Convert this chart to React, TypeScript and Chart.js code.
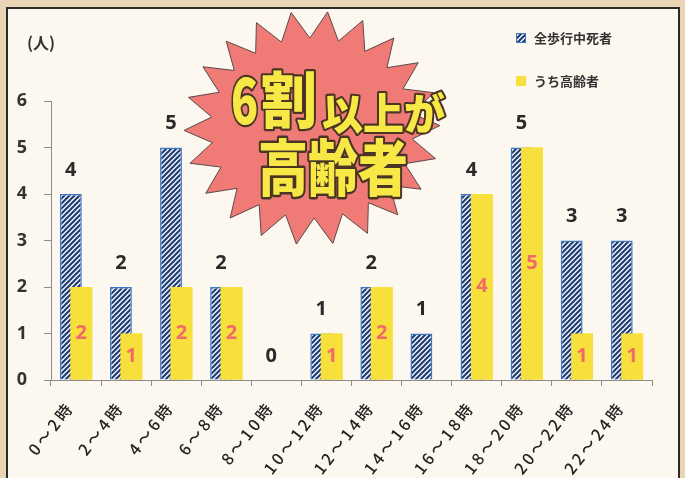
import React, { useEffect, useRef } from 'react';
import { Chart, registerables } from 'chart.js';

Chart.register(...registerables);

const categories = ['0～2時', '2～4時', '4～6時', '6～8時', '8～10時', '10～12時', '12～14時', '14～16時', '16～18時', '18～20時', '20～22時', '22～24時'];
const totalDeaths = [4, 2, 5, 2, 0, 1, 2, 1, 4, 5, 3, 3];
const elderlyDeaths = [2, 1, 2, 2, 0, 1, 2, 0, 4, 5, 1, 1];
const seriesLabels = ['全歩行中死者', 'うち高齢者'];
const yMin = 0;
const yMax = 6;
const unitLabel = '(人)';
const headlineNum = '6';
const headlineA = '割';
const headlineB = '以上が';
const headlineC = '高齢者';

const JP = '"Noto Sans CJK JP", "Noto Sans", sans-serif';
const BLUE_DARK = '#1f3a70';
const BLUE_EDGE = '#3d78c4';
const YELLOW = '#f8e03c';
const LABEL_RED = '#f06a68';
const SPACING = 3;

function makeHatch(): CanvasPattern | string {
  const c = document.createElement('canvas');
  c.width = 5;
  c.height = 5;
  const g = c.getContext('2d');
  if (!g) return BLUE_DARK;
  g.fillStyle = '#eef4fb';
  g.fillRect(0, 0, 5, 5);
  g.strokeStyle = BLUE_DARK;
  g.lineWidth = 2;
  g.beginPath();
  g.moveTo(-1, 6); g.lineTo(6, -1);
  g.moveTo(-1, 1); g.lineTo(1, -1);
  g.moveTo(4, 6); g.lineTo(6, 4);
  g.stroke();
  const p = g.createPattern(c, 'repeat');
  return p || BLUE_DARK;
}

function outlinedText(ctx: CanvasRenderingContext2D, text: string, x: number, y: number, size: number, sx: number, sy: number) {
  ctx.save();
  ctx.translate(x, y);
  ctx.scale(sx, sy);
  ctx.font = `900 ${size}px ${JP}`;
  ctx.textBaseline = 'middle';
  ctx.textAlign = 'left';
  ctx.lineJoin = 'round';
  ctx.lineWidth = 4;
  ctx.strokeStyle = '#4a3424';
  ctx.strokeText(text, 0, 0);
  ctx.fillStyle = '#f8e846';
  ctx.fillText(text, 0, 0);
  ctx.restore();
}

const decorPlugin = {
  id: 'decor',
  beforeDraw(chart: any) {
    const ctx = chart.ctx as CanvasRenderingContext2D;
    const W = chart.width, H = chart.height;
    ctx.save();
    ctx.fillStyle = '#e9d4b6';
    ctx.fillRect(0, 0, W, H);
    ctx.fillStyle = '#fcf8ef';
    ctx.fillRect(7, 8, 672, H);
    ctx.strokeStyle = '#2b2b2b';
    ctx.lineWidth = 2;
    ctx.strokeRect(7, 8, 672, H + 10);
    ctx.fillStyle = '#333';
    ctx.font = `bold 16px ${JP}`;
    ctx.textBaseline = 'middle';
    ctx.textAlign = 'left';
    ctx.fillText(unitLabel, 27, 43);
    ctx.restore();
    (ctx as any).letterSpacing = `${SPACING}px`;
  },
  beforeDatasetsDraw(chart: any) {
    (chart.ctx as any).letterSpacing = '0px';
  },
  afterDatasetsDraw(chart: any) {
    const ctx = chart.ctx as CanvasRenderingContext2D;
    // yellow series sits in front of the hatched series
    chart.getDatasetMeta(1).controller.draw();
    ctx.save();
    const m0 = chart.getDatasetMeta(0);
    const m1 = chart.getDatasetMeta(1);
    ctx.textAlign = 'center';
    ctx.textBaseline = 'middle';
    ctx.font = `bold 20px "Noto Sans", sans-serif`;
    m0.data.forEach((el: any, i: number) => {
      ctx.fillStyle = '#2a2a2a';
      ctx.fillText(String(totalDeaths[i]), el.x, el.y - 24);
    });
    m1.data.forEach((el: any, i: number) => {
      const v = elderlyDeaths[i];
      if (!v) return;
      ctx.fillStyle = LABEL_RED;
      ctx.fillText(String(v), el.x, (el.y + el.base) / 2);
    });

    const items = chart.data.datasets;
    items.forEach((ds: any, i: number) => {
      const ly = 38 + i * 43;
      ctx.fillStyle = ds.backgroundColor;
      ctx.fillRect(516, ly - 5, 10, 10);
      if (ds.borderWidth) {
        ctx.strokeStyle = ds.borderColor;
        ctx.lineWidth = 1;
        ctx.strokeRect(516.5, ly - 4.5, 9, 9);
      }
      ctx.fillStyle = '#333';
      ctx.font = `bold 13px ${JP}`;
      ctx.textAlign = 'left';
      ctx.textBaseline = 'middle';
      ctx.fillText(ds.label, 534, ly);
    });

    const N = 22;
    const cx = 312, cy = 128, rxo = 128, ryo = 117, rxi = 101, ryi = 90;
    ctx.beginPath();
    for (let i = 0; i < 2 * N; i++) {
      const t = ((-83 + (i * 180) / N) * Math.PI) / 180;
      const outer = i % 2 === 0;
      const x = cx + (outer ? rxo : rxi) * Math.cos(t);
      const y = cy + (outer ? ryo : ryi) * Math.sin(t);
      if (i === 0) ctx.moveTo(x, y); else ctx.lineTo(x, y);
    }
    ctx.closePath();
    ctx.fillStyle = '#f07a76';
    ctx.fill();
    ctx.strokeStyle = '#5a4a4a';
    ctx.lineWidth = 1;
    ctx.stroke();

    outlinedText(ctx, headlineNum, 231, 100, 56, 0.8, 1.12);
    outlinedText(ctx, headlineA, 261, 100, 56, 1.0, 1.1);
    outlinedText(ctx, headlineB, 322, 114, 41, 1.0, 1.05);
    outlinedText(ctx, headlineC, 258, 168, 50, 1.0, 1.22);
    ctx.restore();
  },
};

export default function App() {
  const ref = useRef<HTMLCanvasElement | null>(null);
  useEffect(() => {
    if (!ref.current) return;
    const hatch = makeHatch();
    const chart = new Chart(ref.current, {
      type: 'bar',
      data: {
        labels: categories,
        datasets: [
          {
            label: seriesLabels[0],
            data: totalDeaths,
            backgroundColor: hatch as any,
            borderColor: BLUE_EDGE,
            borderWidth: 1.5,
            categoryPercentage: 0.416,
            barPercentage: 2.1,
          },
          {
            label: seriesLabels[1],
            data: elderlyDeaths,
            backgroundColor: YELLOW,
            borderWidth: 0,
            categoryPercentage: 0.416,
            barPercentage: 2.1,
          },
        ],
      },
      options: {
        animation: false,
        responsive: false,
        devicePixelRatio: 1,
        layout: { padding: { top: 101, right: 33, left: 0, bottom: 0 } },
        plugins: { legend: { display: false }, tooltip: { enabled: false } },
        scales: {
          x: {
            grid: { offset: true, drawOnChartArea: false, tickLength: 6, color: '#8a8a8a' },
            border: { color: '#8a8a8a' },
            ticks: {
              maxRotation: 52,
              minRotation: 52,
              color: '#222',
              padding: 12,
              labelOffset: -6,
              font: { family: JP, size: 16, weight: '500' },
            },
            afterFit: (s: any) => { s.height = 98; },
          },
          y: {
            min: yMin,
            max: yMax,
            grid: { drawOnChartArea: false, tickLength: 7, color: '#8a8a8a' },
            border: { color: '#8a8a8a' },
            ticks: {
              stepSize: 1,
              color: '#333',
              padding: 17 - SPACING,
              font: { family: '"Noto Sans", sans-serif', size: 18, weight: 'bold' },
            },
            afterFit: (s: any) => { s.width = 51; },
          },
        },
      },
      plugins: [decorPlugin],
    });
    return () => chart.destroy();
  }, []);
  return (
    <div style={{ position: 'fixed', left: 0, top: 0, width: 685, height: 478 }}>
      <canvas ref={ref} width={685} height={478} style={{ width: 685, height: 478, display: 'block' }} />
    </div>
  );
}
